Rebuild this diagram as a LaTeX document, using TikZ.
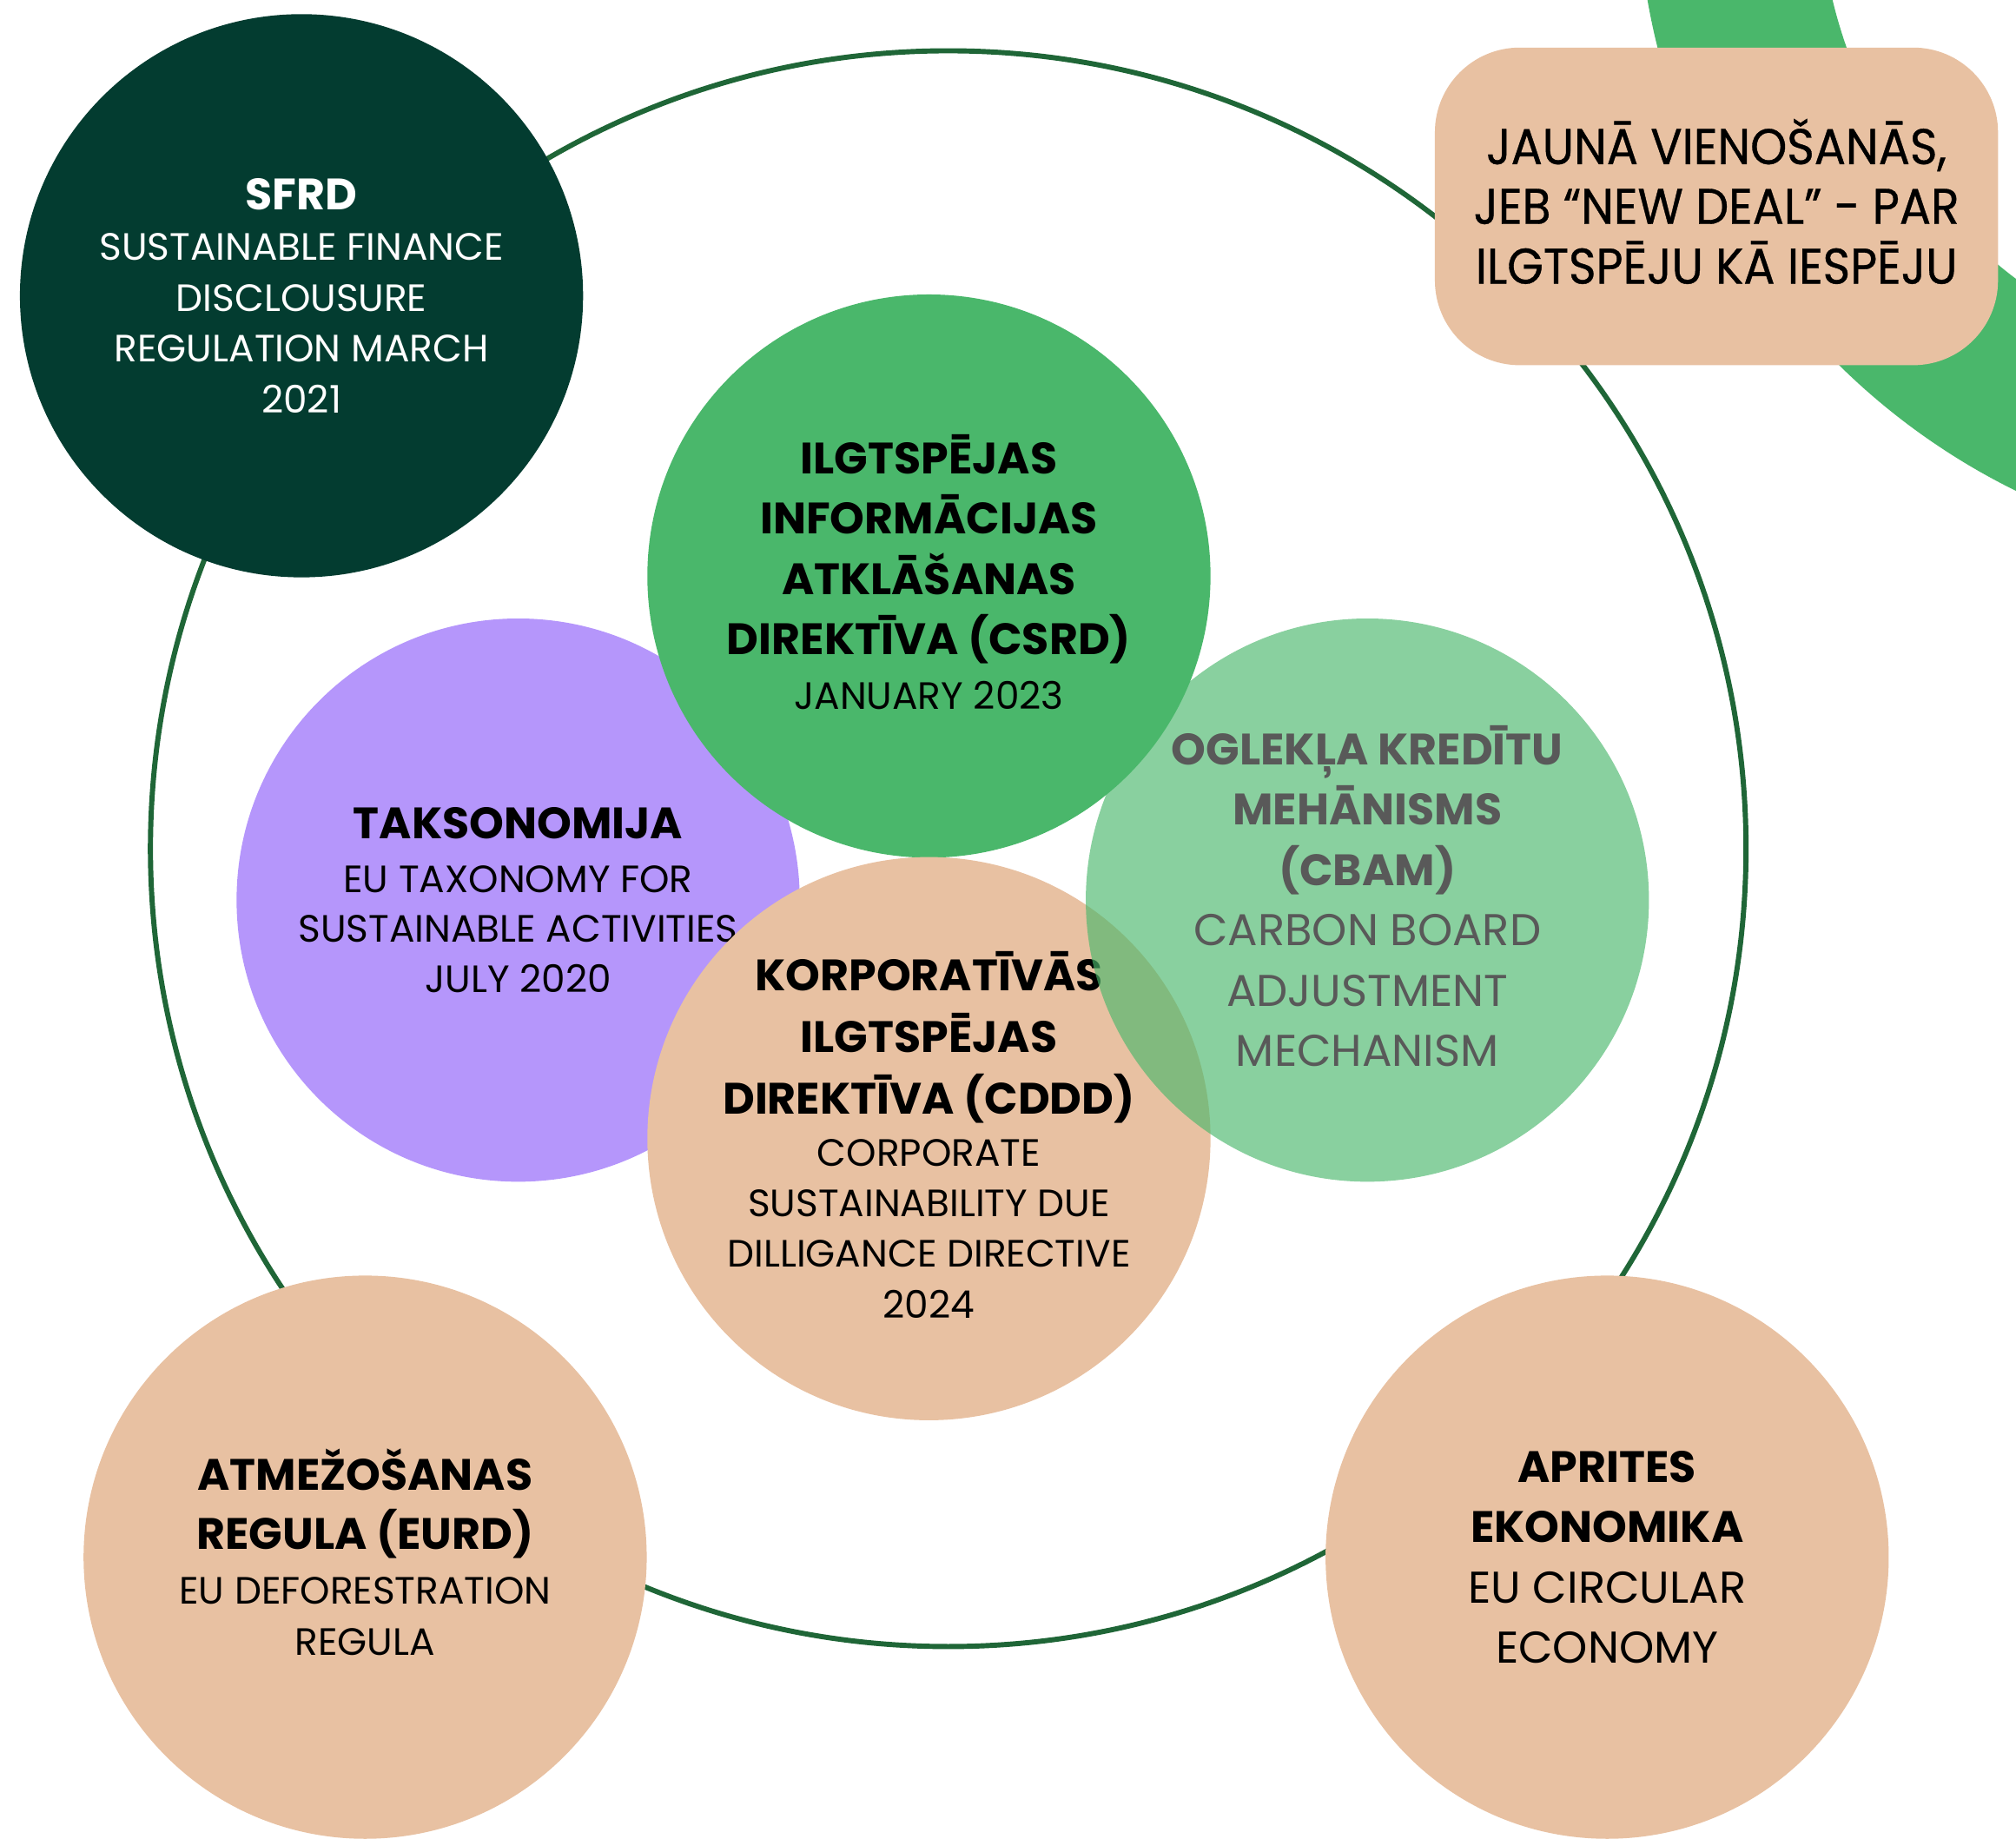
\documentclass[tikz,border=0pt]{standalone}
\usepackage{fontspec}
\setmainfont{Poppins}
\newfontfamily\boxfont{Poppins}[FakeStretch=0.93,FakeBold=0.6]
\definecolor{darkg}{HTML}{033C30}
\definecolor{midg}{HTML}{4AB76B}
\definecolor{purp}{HTML}{B596FB}
\definecolor{peach}{HTML}{E8C1A2}
\definecolor{ringc}{HTML}{1F6637}
\definecolor{grayt}{HTML}{595959}
\newcommand\Tf{\fontsize{17.1pt}{17pt}\selectfont\bfseries}
\newcommand\Sf{\fontsize{14.8pt}{15pt}\selectfont}
\newcommand\Lf{\fontsize{17.3pt}{17pt}\selectfont}
\newcommand\Bf{\boxfont\fontsize{19.5pt}{19pt}\selectfont}
\newcommand\Ln[2]{\hbox to 0pt{\hss#1\vrule height\fontcharht\font`H depth 0pt width 0pt\smash{#2}\hss}}
\newcommand\Gap[1]{\baselineskip=#1\relax}
\newcommand\Blk[1]{\vtop{\lineskiplimit=-\maxdimen\lineskip=0pt #1}}
\tikzset{
  circ/.style={circle, minimum size=219pt, inner sep=0pt, outer sep=0pt},
  ringst/.style={circle, draw=ringc, line width=2pt, minimum size=620.5pt, inner sep=0pt},
  arcst/.style={circle, draw=midg, line width=70.5pt, minimum size=456pt, inner sep=0pt},
  boxst/.style={rectangle, rounded corners=33pt, fill=peach, minimum width=219pt, minimum height=123.5pt, inner sep=0pt}
}
\begin{document}
\begin{tikzpicture}[x=0.5pt,y=-0.5pt]
\useasboundingbox (0,0) rectangle (1568,1430);
\begin{scope}
\clip (0,0) rectangle (1568,1430);
\node[ringst] (ring) at (737.5,660) {};
\node[arcst] (arc) at (1800,-91) {};
\node[circ, fill=darkg, text=white] (sfrd) at (234.5,230) {\Blk{\Gap{19.75pt}%
  \Ln\Tf{SFRD}\Ln\Sf{SUSTAINABLE FINANCE}\Ln\Sf{DISCLOUSURE}\Ln\Sf{REGULATION MARCH}\Ln\Sf{2021}}};
\node[boxst] (deal) at (1335,160.5) {\Blk{\Gap{23.25pt}%
  \Ln\Bf{JAUNĀ VIENOŠANĀS,}\Ln\Bf{JEB “NEW DEAL” - PAR}\Ln\Bf{ILGTSPĒJU KĀ IESPĒJU}}};
\node[circ, fill=purp] (tax) at (403,700) {\Blk{%
  \Ln\Tf{TAKSONOMIJA}\Gap{20.75pt}\Ln\Sf{EU TAXONOMY FOR}\Gap{19.5pt}\Ln\Sf{SUSTAINABLE ACTIVITIES}\Ln\Sf{JULY 2020}}};
\node[circ, fill=midg] (csrd) at (722.5,448) {\Blk{\Gap{23.5pt}%
  \Ln\Tf{ILGTSPĒJAS}\Ln\Tf{INFORMĀCIJAS}\Ln\Tf{ATKLĀŠANAS}\Ln\Tf{DIREKTĪVA (CSRD)}\Gap{21.25pt}\Ln\Sf{JANUARY 2023}}};
\node[circ, fill=peach] (cddd) at (722.5,885.5) {\Blk{\Gap{24pt}%
  \Ln\Tf{KORPORATĪVĀS}\Ln\Tf{ILGTSPĒJAS}\Ln\Tf{DIREKTĪVA (CDDD)}\Gap{20.25pt}\Ln\Sf{CORPORATE}\Gap{19.7pt}\Ln\Sf{SUSTAINABILITY DUE}\Ln\Sf{DILLIGANCE DIRECTIVE}\Ln\Sf{2024}}};
\node[circ, fill=midg, fill opacity=0.65, text opacity=1, text=grayt] (cbam) at (1063.5,700) {\Blk{\Gap{23.5pt}%
  \Ln\Tf{OGLEKĻA KREDĪTU}\Ln\Tf{MEHĀNISMS}\Ln\Tf{(CBAM)}\Ln\Lf{CARBON BOARD}\Ln\Lf{ADJUSTMENT}\Ln\Lf{MECHANISM}}};
\node[circ, fill=peach] (eurd) at (284,1211) {\Blk{\Gap{23pt}%
  \Ln\Tf{ATMEŽOŠANAS}\Ln\Tf{REGULA (EURD)}\Gap{21.25pt}\Ln\Sf{EU DEFORESTRATION}\Gap{20pt}\Ln\Sf{REGULA}}};
\node[circ, fill=peach] (circ) at (1250,1211) {\Blk{\Gap{23.5pt}%
  \Ln\Tf{APRITES}\Ln\Tf{EKONOMIKA}\Ln\Lf{EU CIRCULAR}\Ln\Lf{ECONOMY}}};
\end{scope}
\end{tikzpicture}
\end{document}
